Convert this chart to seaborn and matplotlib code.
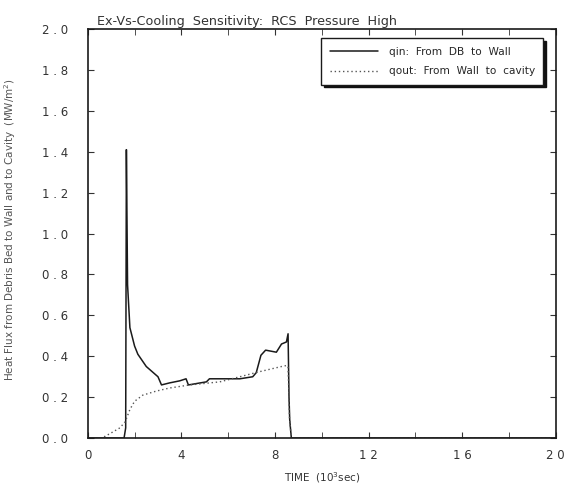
import numpy as np
import pandas as pd
import seaborn as sns
import matplotlib
matplotlib.use("Agg")
import matplotlib.pyplot as plt
from matplotlib.ticker import MultipleLocator, FixedLocator, FixedFormatter

sns.set_style("ticks")
plt.rcParams['font.family'] = ['DejaVu Sans']

# qin: heat flux from debris bed to wall
t_in = [0.0, 1.55, 1.62, 1.65, 1.70, 1.80, 2.00, 2.14, 2.50, 3.00, 3.15, 3.50,
        3.93, 4.20, 4.30, 5.07, 5.20, 6.50, 7.05, 7.20, 7.40, 7.60, 8.06, 8.28,
        8.49, 8.56, 8.60, 8.63, 8.70, 20.0]
q_in = [0.0, 0.0, 0.05, 1.41, 0.75, 0.54, 0.45, 0.41, 0.35, 0.30, 0.26, 0.27,
        0.28, 0.29, 0.26, 0.275, 0.29, 0.29, 0.30, 0.32, 0.405, 0.43, 0.42, 0.46,
        0.47, 0.51, 0.20, 0.09, 0.0, 0.0]

# qout: heat flux from wall to cavity
t_out = [0.0, 0.60, 1.07, 1.37, 1.60, 1.70, 1.80, 2.00, 2.35, 2.93, 3.50, 4.36,
         5.64, 6.50, 7.35, 8.28, 8.50, 8.56, 8.62, 8.70, 20.0]
q_out = [0.0, 0.0, 0.03, 0.05, 0.08, 0.11, 0.14, 0.18, 0.21, 0.23, 0.245, 0.26,
         0.275, 0.30, 0.325, 0.35, 0.355, 0.35, 0.10, 0.0, 0.0]

x_tick_vals = [0, 4, 8, 12, 16, 20]
x_tick_text = ["0", "4", "8", "1 2", "1 6", "2 0"]
y_tick_vals = [0.0, 0.2, 0.4, 0.6, 0.8, 1.0, 1.2, 1.4, 1.6, 1.8, 2.0]
y_tick_text = ["0 . 0", "0 . 2", "0 . 4", "0 . 6", "0 . 8", "1 . 0",
               "1 . 2", "1 . 4", "1 . 6", "1 . 8", "2 . 0"]

df_in = pd.DataFrame({"t": t_in, "q": q_in})
df_out = pd.DataFrame({"t": t_out, "q": q_out})

fig = plt.figure(figsize=(5.7, 4.99), dpi=100)
ax = fig.add_axes([0.154, 0.122, 0.821, 0.820])

sns.lineplot(data=df_in, x="t", y="q", ax=ax, color="#1a1a1a", lw=1.1,
             label="qin:  From  DB  to  Wall", sort=False, estimator=None)
sns.lineplot(data=df_out, x="t", y="q", ax=ax, color="#555555", lw=1.0,
             linestyle=(0, (1, 2)), label="qout:  From  Wall  to  cavity",
             sort=False, estimator=None)

ax.set_xlim(0, 20)
ax.set_ylim(0, 2.0)
ax.xaxis.set_major_locator(FixedLocator(x_tick_vals))
ax.xaxis.set_major_formatter(FixedFormatter(x_tick_text))
ax.xaxis.set_minor_locator(MultipleLocator(2))
ax.yaxis.set_major_locator(FixedLocator(y_tick_vals))
ax.yaxis.set_major_formatter(FixedFormatter(y_tick_text))
ax.tick_params(which="both", direction="in", top=True, right=True,
               labelsize=8.5, colors="#333333", length=4, pad=8)
ax.tick_params(axis="y", pad=14)
for s in ax.spines.values():
    s.set_color("#1a1a1a")
    s.set_linewidth(1.2)

ax.set_xlabel("TIME  (10$^3$sec)", fontsize=7.5, color="#333333", labelpad=6)
ax.set_ylabel("Heat Flux from Debris Bed to Wall and to Cavity  (MW/m$^2$)",
              fontsize=7.5, color="#555555", labelpad=4)
ax.yaxis.set_label_coords(-0.15, 0.51)
ax.set_title("Ex-Vs-Cooling  Sensitivity:  RCS  Pressure  High",
             fontsize=9.2, color="#333333", loc="left", x=0.02, pad=3)

leg = ax.legend(loc="upper right", bbox_to_anchor=(0.985, 0.99), fontsize=7.6,
                frameon=True, fancybox=False,
                shadow={"color": "#111111", "alpha": 1.0},
                handlelength=4.6, borderpad=0.8, labelspacing=0.9,
                handletextpad=1.0)
leg.get_frame().set_edgecolor("#1a1a1a")
leg.get_frame().set_linewidth(1.0)

fig.savefig("out.png", dpi=100)
